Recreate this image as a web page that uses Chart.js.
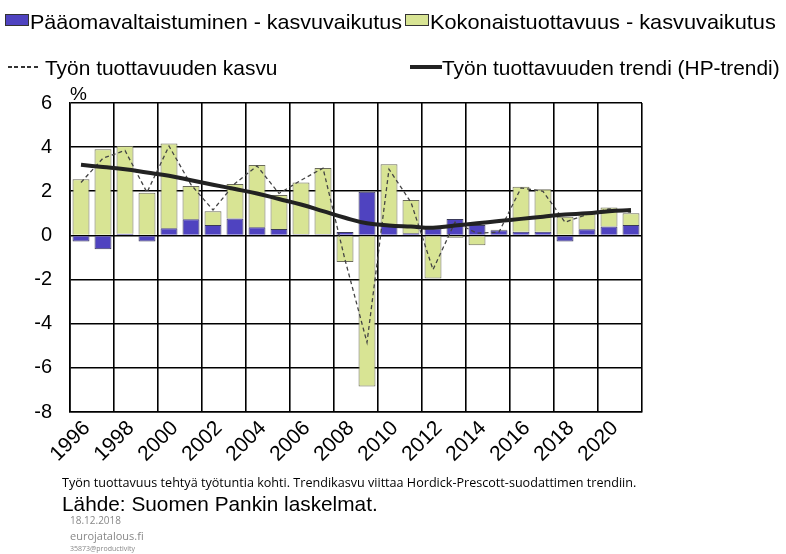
<!DOCTYPE html>
<html>
<head>
<meta charset="utf-8">
<script src="https://cdn.jsdelivr.net/npm/chart.js@4.4.1/dist/chart.umd.min.js"></script>
<style>
  body { margin: 0; background: #fff; }
  #wrap { position: relative; width: 786px; height: 554px; overflow: hidden; font-family: 'Liberation Sans', Arial, sans-serif; }
  #chart { position: absolute; left: 0; top: 0; }
  .t { position: absolute; white-space: nowrap; color: #000; transform-origin: 0 0; line-height: 1; }
  .box { position: absolute; height: 10px; width: 22px; border: 1px solid #333; }
  .small { font-family: 'Open Sans', sans-serif; }
  .grey { color: #888; font-family: 'Open Sans', sans-serif; }
</style>
</head>
<body>
<div id="wrap">
  <canvas id="chart" width="786" height="554"></canvas>

  <div class="box" style="left:5px;top:14px;background:#4f43c0"></div>
  <div class="t fit" data-w="372" style="left:30px;top:11px;font-size:21px">Pääomavaltaistuminen - kasvuvaikutus</div>
  <div class="box" style="left:405px;top:14px;background:#d8e494"></div>
  <div class="t fit" data-w="346" style="left:430px;top:11px;font-size:21px">Kokonaistuottavuus - kasvuvaikutus</div>

  <div style="position:absolute;left:8px;top:66px;width:32px;height:1.5px;background:repeating-linear-gradient(90deg,#333 0 4px,transparent 4px 6.5px)"></div>
  <div class="t fit" data-w="233" style="left:45px;top:57px;font-size:21px">Työn tuottavuuden kasvu</div>
  <div style="position:absolute;left:410px;top:65px;width:32px;height:4px;background:#222"></div>
  <div class="t fit" data-w="338" style="left:442px;top:57px;font-size:21px">Työn tuottavuuden trendi (HP-trendi)</div>

  <div class="t" style="left:70px;top:84px;font-size:19px">%</div>

  <div class="t small fit" data-w="574" style="left:62px;top:477px;font-size:12px">Työn tuottavuus tehtyä työtuntia kohti. Trendikasvu viittaa Hordick-Prescott-suodattimen trendiin.</div>
  <div class="t fit" data-w="316" style="left:62px;top:493px;font-size:21px">Lähde: Suomen Pankin laskelmat.</div>
  <div class="t grey" style="left:70px;top:515px;font-size:10px">18.12.2018</div>
  <div class="t grey" style="left:70px;top:530px;font-size:11px">eurojatalous.fi</div>
  <div class="t grey" style="left:70px;top:545px;font-size:7px">35873@productivity</div>
</div>
<script>
const years = ['1996', '1997', '1998', '1999', '2000', '2001', '2002', '2003', '2004', '2005', '2006', '2007', '2008',
    '2009', '2010', '2011', '2012', '2013', '2014', '2015', '2016', '2017', '2018', '2019', '2020', '2021']
const capitalDeepening = [-0.28, -0.63, 0.08, -0.28, 0.32, 0.73, 0.47, 0.77, 0.37, 0.29, 0.05, 0.05, 0.15,
    1.98, 0.45, 0.1, 0.32, 0.75, 0.47, 0.24, 0.17, 0.17, -0.28, 0.28, 0.4, 0.47]
const tfp = [2.55, 3.9, 3.97, 1.93, 3.85, 1.51, 0.63, 1.56, 2.82, 1.54, 2.35, 3.0, -1.2,
    -6.85, 2.78, 1.5, -1.95, -0.1, -0.44, 0.02, 2.03, 1.92, 0.85, 0.72, 0.87, 0.53]
const productivityGrowth = [2.4, 3.5, 3.85, 1.95, 4.05, 2.3, 1.15, 2.35, 3.15, 1.9, 2.5, 3.05, -1.1,
    -4.85, 3.0, 1.5, -1.55, 0.6, 0.1, 0.15, 2.15, 2.0, 0.6, 0.95, 1.2, 1.05]
const hpTrend = [3.2, 3.1, 3.0, 2.85, 2.7, 2.5, 2.3, 2.1, 1.9, 1.65, 1.4, 1.1, 0.8,
    0.55, 0.45, 0.4, 0.35, 0.45, 0.55, 0.65, 0.75, 0.85, 0.95, 1.0, 1.1, 1.15]
const yTicks = [6, 4, 2, 0, -2, -4, -6, -8]

// stretch the html labels to the widths they have in the picture
document.querySelectorAll('.fit').forEach(el => {
    el.style.transform = `scaleX(${el.dataset.w / el.offsetWidth})`
})

const ctx = document.getElementById('chart').getContext('2d')
Chart.defaults.font.family = "'Liberation Sans', Arial, sans-serif"
Chart.defaults.color = '#000'

new Chart(ctx, {
    type: 'bar',
    data: {
        labels: years,
        datasets: [{
            label: 'Työn tuottavuuden trendi (HP-trendi)',
            type: 'line',
            data: hpTrend,
            stack: 'trend',
            borderColor: '#222',
            borderWidth: 4,
            pointRadius: 0,
            tension: 0.4,
            order: 0,
        }, {
            label: 'Työn tuottavuuden kasvu',
            type: 'line',
            data: productivityGrowth,
            stack: 'dash',
            borderColor: '#444',
            borderWidth: 1.3,
            borderDash: [4, 3],
            pointRadius: 0,
            order: 1,
        }, {
            label: 'Pääomavaltaistuminen - kasvuvaikutus',
            data: capitalDeepening,
            stack: 'bars',
            backgroundColor: '#4f43c0',
            borderColor: '#3a3a5a',
            borderWidth: 1,
            order: 2,
        }, {
            label: 'Kokonaistuottavuus - kasvuvaikutus',
            data: tfp,
            stack: 'bars',
            backgroundColor: '#d8e494',
            borderColor: '#6b6b5a',
            borderWidth: 1,
            order: 3,
        }]
    },
    options: {
        responsive: false,
        animation: false,
        layout: { padding: { top: 103, right: 144, left: 0, bottom: 0 } },
        datasets: { bar: { barPercentage: 0.77, categoryPercentage: 1 } },
        plugins: { legend: { display: false }, tooltip: { enabled: false } },
        scales: {
            x: {
                stacked: true,
                offset: true,
                grid: {
                    offset: true,
                    drawTicks: false,
                    lineWidth: 1.6,
                    color: c => (c.index === undefined || c.index % 2 === 0) ? '#000' : 'rgba(0,0,0,0)',
                },
                border: { color: '#000', width: 1.6 },
                ticks: {
                    autoSkip: false,
                    minRotation: 45,
                    maxRotation: 45,
                    padding: 4,
                    labelOffset: 6,
                    font: { size: 21 },
                    callback: (v, i) => i % 2 === 0 ? years[i] : '',
                },
                afterFit: s => { s.height = 142 },
            },
            y: {
                stacked: true,
                min: yTicks[yTicks.length - 1],
                max: yTicks[0],
                grid: { color: '#000', lineWidth: 1.6, drawTicks: false },
                border: { color: '#000', width: 1.6 },
                ticks: { stepSize: 2, padding: 18, font: { size: 20 } },
                afterFit: s => { s.width = 70 },
            }
        }
    }
})
</script>
</body>
</html>
